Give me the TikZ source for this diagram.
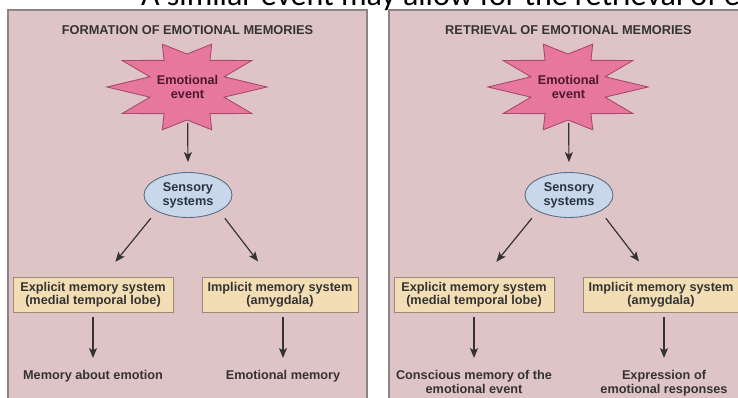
\documentclass[tikz,border=0pt]{standalone}
\usepackage{fontspec}
\setmainfont{Liberation Sans}
\newfontfamily\capfont{Carlito}
\usetikzlibrary{shapes.geometric,arrows.meta}
\definecolor{panelpink}{HTML}{DFC4C7}
\definecolor{panelline}{HTML}{8E8486}
\definecolor{starpink}{HTML}{E8779E}
\definecolor{starline}{HTML}{A84A6C}
\definecolor{starink}{HTML}{4E1830}
\definecolor{senseblue}{HTML}{C8D7EA}
\definecolor{senseline}{HTML}{5E6E86}
\definecolor{senseink}{HTML}{2B3340}
\definecolor{boxtan}{HTML}{F2DDB5}
\definecolor{boxline}{HTML}{9C8B72}
\definecolor{inkgray}{HTML}{333333}
\begin{document}
\begin{tikzpicture}[x=1pt,y=-1pt]
        \tikzstyle{panel}=[draw=panelline, fill=panelpink, line width=1.2pt]
        \tikzstyle{titlenode}=[anchor=base, inner sep=0pt, text=inkgray, font=\bfseries\fontsize{12.8}{14}\selectfont]
        \tikzstyle{starshape}=[draw=starline, fill=starpink, line width=0.9pt]
        \tikzstyle{evtext}=[align=center, inner sep=0pt, text=starink, font=\bfseries\fontsize{12.7}{13.5}\selectfont]
        \tikzstyle{sensenode}=[ellipse, draw=senseline, fill=senseblue, line width=0.9pt, minimum width=88pt, minimum height=45pt, inner sep=0pt, align=center, text=senseink, font=\bfseries\fontsize{12.7}{14}\selectfont]
        \tikzstyle{memnode}=[rectangle, draw=boxline, fill=boxtan, line width=0.9pt, minimum height=35pt, inner sep=0pt, align=center, text=inkgray, font=\bfseries\fontsize{12.7}{13.5}\selectfont]
        \tikzstyle{outnode}=[anchor=north, inner sep=0pt, align=center, text=inkgray, font=\bfseries\fontsize{12.7}{14.5}\selectfont]
        \tikzstyle{arr}=[draw=inkgray, line width=1.2pt, -{Stealth[length=10pt,width=8pt,inset=2.5pt]}]
        \useasboundingbox (0,0) rectangle (738,398);
        \fill[white] (0,0) rectangle (738,398);
        \node[anchor=base west, inner sep=0pt, font=\capfont\fontsize{32}{36}\selectfont] (cap) at (141,6) {A similar event may allow for the retrieval of emotional memories};
        \foreach \p/\ox/\ttl/\outE/\outI in {1/0/FORMATION OF EMOTIONAL MEMORIES/{Memory about emotion}/{Emotional memory},
                2/381/RETRIEVAL OF EMOTIONAL MEMORIES/{Conscious memory of the\\emotional event}/{Expression of\\emotional responses}} {
            \draw[panel] (\ox+8,10) rectangle (\ox+367,402);
            \node[titlenode] (ttl\p) at (\ox+187.5,35) {\ttl};
            % starburst round the event
            \draw[starshape] (\ox+267,87) \foreach \a in {0,36,...,288} {
                -- ({\ox+187+39*cos(\a+18)},{87+33*sin(\a+18)}) -- ({\ox+187+80*cos(\a+36)},{87+45*sin(\a+36)}) }
                -- ({\ox+187+39*cos(342)},{87+33*sin(342)}) -- cycle;
            \node[evtext] (ev\p) at (\ox+187.5,87) {Emotional\\event};
            \node[sensenode] (sens\p) at (\ox+188,195) {Sensory\\systems};
            \node[memnode, minimum width=160pt] (expl\p) at (\ox+93,294.5) {Explicit memory system\\(medial temporal lobe)};
            \node[memnode, minimum width=156pt] (impl\p) at (\ox+280,294.5) {Implicit memory system\\(amygdala)};
            \node[outnode] (outE\p) at (\ox+93,370) {\outE};
            \node[outnode] (outI\p) at (\ox+283,370) {\outI};
            \draw[arr, shorten <=36pt, shorten >=10pt] (ev\p.center) -- (sens\p.north);
            \draw[arr, shorten <=9pt, shorten >=19pt] (sens\p.south west) -- (expl\p.60);
            \draw[arr, shorten <=9pt, shorten >=19pt] (sens\p.south east) -- (impl\p.120);
            \draw[arr, shorten <=5pt, shorten >=12pt] (expl\p.south) -- (outE\p.north);
            \draw[arr, shorten <=5pt, shorten >=12pt] (impl\p.south-|outI\p.north) -- (outI\p.north);
        }
\end{tikzpicture}
\end{document}
